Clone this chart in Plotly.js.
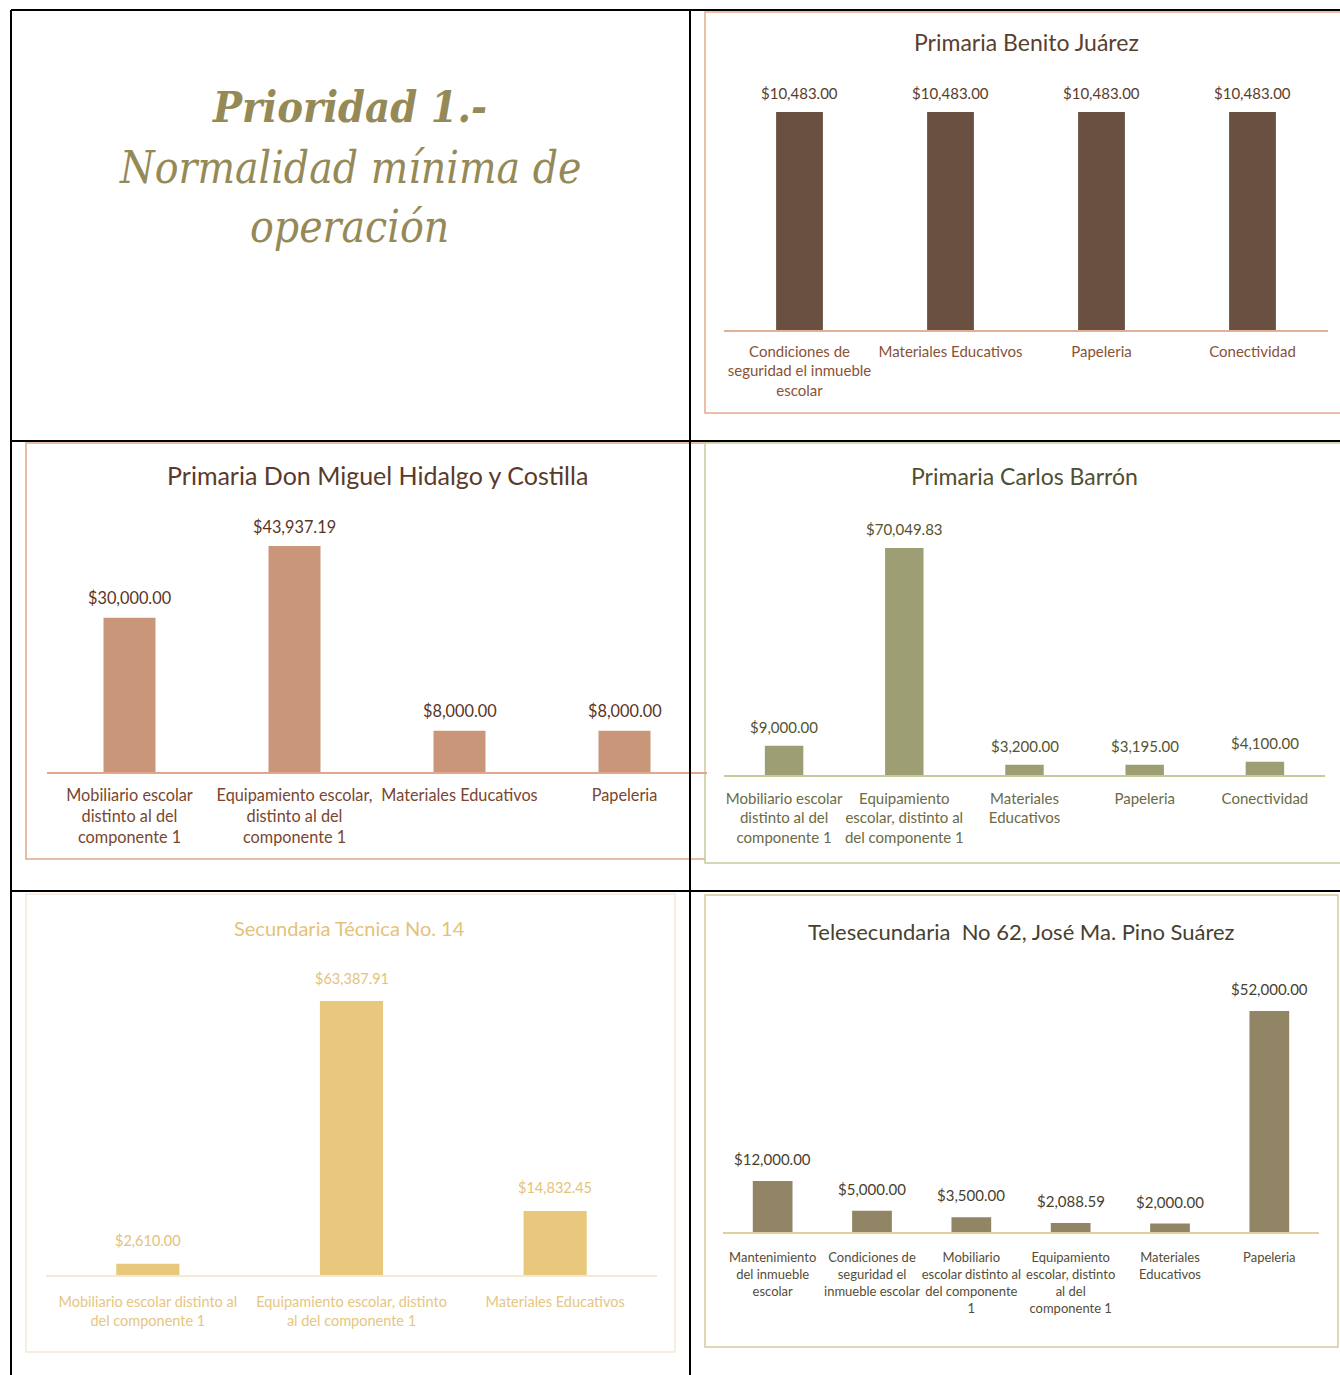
<!DOCTYPE html>
<html><head><meta charset="utf-8">
<script src="https://cdn.plot.ly/plotly-3.0.1.min.js"></script>
<style>html,body{margin:0;padding:0;background:#fff;}#chart{width:1340px;height:1375px;}</style>
</head><body><div id="chart"></div>
<script>
// ---------- DATA ----------
const headingLines = ["Prioridad 1.-", "Normalidad mínima de", "operación"];

const benitoTitle = "Primaria Benito Juárez";
const benitoCats = ["Condiciones de<br>seguridad el inmueble<br>escolar", "Materiales Educativos", "Papeleria", "Conectividad"];
const benitoVals = [10483.00, 10483.00, 10483.00, 10483.00];

const hidalgoTitle = "Primaria Don Miguel Hidalgo y Costilla";
const hidalgoCats = ["Mobiliario escolar<br>distinto al del<br>componente 1", "Equipamiento escolar,<br>distinto al del<br>componente 1", "Materiales Educativos", "Papeleria"];
const hidalgoVals = [30000.00, 43937.19, 8000.00, 8000.00];

const barronTitle = "Primaria Carlos Barrón";
const barronCats = ["Mobiliario escolar<br>distinto al del<br>componente 1", "Equipamiento<br>escolar, distinto al<br>del componente 1", "Materiales<br>Educativos", "Papeleria", "Conectividad"];
const barronVals = [9000.00, 70049.83, 3200.00, 3195.00, 4100.00];

const tecnicaTitle = "Secundaria Técnica No. 14";
const tecnicaCats = ["Mobiliario escolar distinto al<br>del componente 1", "Equipamiento escolar, distinto<br>al del componente 1", "Materiales Educativos"];
const tecnicaVals = [2610.00, 63387.91, 14832.45];

const teleTitle = "Telesecundaria  No 62, José Ma. Pino Suárez";
const teleCats = ["Mantenimiento<br>del inmueble<br>escolar", "Condiciones de<br>seguridad el<br>inmueble escolar", "Mobiliario<br>escolar distinto al<br>del componente<br>1", "Equipamiento<br>escolar, distinto<br>al del<br>componente 1", "Materiales<br>Educativos", "Papeleria"];
const teleVals = [12000.00, 5000.00, 3500.00, 2088.59, 2000.00, 52000.00];

// ---------- LAYOUT HELPERS ----------
const W = 1340, H = 1375;
const px = x => x / W;
const py = y => 1 - y / H;
const money = v => "$" + v.toLocaleString("en-US", {minimumFractionDigits: 2, maximumFractionDigits: 2});

const LATO = "Lato, 'Open Sans', sans-serif";

const charts = [
  {title: benitoTitle, cats: benitoCats, vals: benitoVals, x0: 724, x1: 1328, base: 330, top: 100, scale: 218/10483,
   bar: "#6a5040", axis: "#e2b092", titleFont: {family: LATO, size: 23, color: "#5a3e2e"}, titleY: 42, titleX: 1026,
   valFont: {family: LATO, size: 15, color: "#5a3c2c"}, valShift: 19,
   tickFont: {family: LATO, size: 15, color: "#8a5236"}, standoff: 7, width: 0.31},
  {title: hidalgoTitle, cats: hidalgoCats, vals: hidalgoVals, x0: 47, x1: 707, base: 772, top: 520, scale: 226/43937.19,
   bar: "#c9967a", axis: "#e0a88a", titleFont: {family: LATO, size: 25, color: "#5a3a2a"}, titleY: 475, titleX: 377,
   valFont: {family: LATO, size: 16.3, color: "#5a3426"}, valShift: 20,
   tickFont: {family: LATO, size: 16.3, color: "#7a4630"}, standoff: 8, width: 0.315},
  {title: barronTitle, cats: barronCats, vals: barronVals, x0: 724, x1: 1325, base: 775, top: 520, scale: 227/70049.83,
   bar: "#9e9e74", axis: "#c8c89a", titleFont: {family: LATO, size: 23, color: "#4f4f30"}, titleY: 476, titleX: 1024,
   valFont: {family: LATO, size: 15, color: "#55532f"}, valShift: 19,
   tickFont: {family: LATO, size: 15, color: "#6b6a45"}, standoff: 9, width: 0.32},
  {title: tecnicaTitle, cats: tecnicaCats, vals: tecnicaVals, x0: 46, x1: 657, base: 1275, top: 970, scale: 274/63387.91,
   bar: "#e8c87c", axis: "#f3e8d6", titleFont: {family: LATO, size: 20, color: "#e4c27a"}, titleY: 928, titleX: 350,
   valFont: {family: LATO, size: 14.5, color: "#e4c27a"}, valShift: 23,
   tickFont: {family: LATO, size: 14.5, color: "#e6c680"}, standoff: 13, width: 0.31},
  {title: teleTitle, cats: teleCats, vals: teleVals, x0: 723, x1: 1319, base: 1232, top: 980, scale: 221/52000,
   bar: "#918565", axis: "#e0cfa0", titleFont: {family: LATO, size: 22, color: "#47412f"}, titleY: 932, titleX: 1021,
   valFont: {family: LATO, size: 15, color: "#47412f"}, valShift: 22,
   tickFont: {family: LATO, size: 13, color: "#554d36"}, standoff: 13, width: 0.40}
];

const data = [];
const annotations = [];
const layout = {
  width: W, height: H, margin: {l: 0, r: 0, t: 0, b: 0},
  paper_bgcolor: "#ffffff", plot_bgcolor: "rgba(0,0,0,0)", showlegend: false,
  annotations: annotations, shapes: []
};

charts.forEach((c, i) => {
  const n = i === 0 ? "" : String(i + 1);
  const xa = "x" + n, ya = "y" + n;
  data.push({
    type: "bar", x: c.cats, y: c.vals, xaxis: xa, yaxis: ya,
    marker: {color: c.bar, line: {width: 0}}, width: c.width,
    hoverinfo: "skip", cliponaxis: false
  });
  layout["xaxis" + n] = {
    domain: [px(c.x0), px(c.x1)], anchor: ya, type: "category",
    range: [-0.5, c.cats.length - 0.5], showgrid: false, zeroline: false,
    showline: true, linecolor: c.axis, linewidth: 1.5, ticks: "", tickangle: 0,
    tickfont: c.tickFont, ticklabelstandoff: c.standoff, fixedrange: true, automargin: false
  };
  layout["yaxis" + n] = {
    domain: [py(c.base), py(c.top)], anchor: xa,
    range: [0, (c.base - c.top) / c.scale], visible: false, fixedrange: true
  };
  c.cats.forEach((cat, k) => {
    annotations.push({
      xref: xa, yref: ya, x: cat, y: c.vals[k], text: money(c.vals[k]),
      showarrow: false, yanchor: "middle", xanchor: "center", yshift: c.valShift, font: c.valFont
    });
  });
  annotations.push({
    xref: "paper", yref: "paper", x: px(c.titleX), y: py(c.titleY), text: c.title,
    showarrow: false, xanchor: "center", yanchor: "middle", font: c.titleFont
  });
});

// heading text in the first cell
const headColor = "#958a57";
const SERIF = "'DejaVu Serif Condensed', 'DejaVu Serif', serif";
[[107, true, 43], [168, false, 44], [226, false, 44]].forEach((p, k) => {
  annotations.push({
    xref: "paper", yref: "paper", x: px(350), y: py(p[0]),
    text: p[1] ? "<b><i>" + headingLines[k] + "</i></b>" : "<i>" + headingLines[k] + "</i>",
    showarrow: false, xanchor: "center", yanchor: "middle",
    font: {family: SERIF, size: p[2], color: headColor}
  });
});

// chart frames (later frames are white-filled and cover earlier ones)
const frames = [
  [26, 443, 720, 859, "#e0a88a"],
  [705, 12, 1345, 413, "#e4a98a"],
  [705, 443, 1345, 863, "#c8cc9c"],
  [26, 894, 675, 1352, "#f3ead8"],
  [705, 895, 1338, 1347, "#d8c79a"]
];
frames.forEach((f, i) => layout.shapes.push({
  type: "rect", xref: "paper", yref: "paper", x0: px(f[0]), y0: py(f[1]), x1: px(f[2]), y1: py(f[3]),
  line: {color: f[4], width: 1.5}, fillcolor: i === 0 ? "rgba(0,0,0,0)" : "#ffffff", layer: "below"
}));

// table grid lines
const grid = [
  [11, 10, 1340, 10], [11, 10, 11, 1375], [690, 10, 690, 1375],
  [11, 441, 1340, 441], [11, 891, 1340, 891]
];
grid.forEach(g => layout.shapes.push({
  type: "line", xref: "paper", yref: "paper", x0: px(g[0]), y0: py(g[1]), x1: px(g[2]), y1: py(g[3]),
  line: {color: "#000000", width: 2}, layer: "above"
}));

Plotly.newPlot("chart", data, layout, {staticPlot: true, displayModeBar: false});
</script></body></html>
